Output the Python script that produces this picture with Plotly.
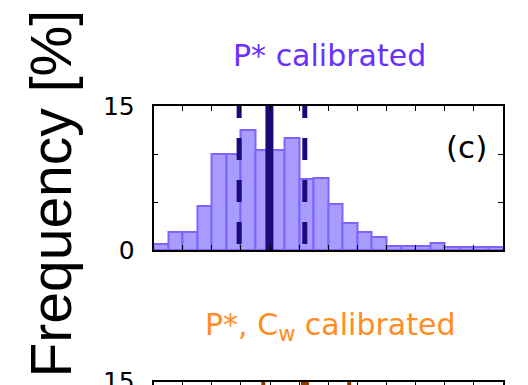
import plotly.graph_objects as go

# ---- data ----
bin_left = [0.0, 0.5, 1.0, 1.5, 2.0, 2.5, 3.0, 3.5, 4.0, 4.5, 5.0, 5.5,
            6.0, 6.5, 7.0, 7.5, 8.0, 8.5, 9.0, 9.5, 10.0, 10.5, 11.0, 11.5]
bin_width = 0.5
freq_c = [0.65, 1.9, 1.9, 4.6, 9.95, 9.95, 12.45, 10.45, 10.45, 11.7, 7.35, 7.5,
          4.75, 2.85, 1.9, 1.4, 0.4, 0.4, 0.4, 0.7, 0.3, 0.3, 0.3, 0.3]
stats_c = {"low": 2.94, "median": 3.98, "high": 5.195}
stats_e = {"low": 3.77, "median": 5.2, "high": 6.72}
title_c = "P* calibrated"
title_e = "P*, C<sub>w</sub> calibrated"
panel_label = "(c)"
ylabel = "Frequency [%]"
x_range = [0, 12]
y_range = [0, 15]
y_labelvals = [0, 15]
y_labeltext = ["0", "15"]

# page body has an 8px margin: figure is drawn 8px right/down
OFF = 8
W, H = 528 - OFF, 385 - OFF
left_px, right_px = 153.5 - OFF, 503 - OFF
top1, bot1 = 106 - OFF, 250 - OFF
top2 = 381.5 - OFF

bar_fill = "#a99cff"
bar_edge = "#7f62ff"
line_c = "#1c0a78"
line_e = "#8a3c00"

fig = go.Figure()

centers = [b + bin_width / 2 for b in bin_left]
fig.add_trace(go.Bar(x=centers, y=freq_c, width=bin_width,
                     marker=dict(color=bar_fill, line=dict(color=bar_edge, width=2)),
                     xaxis="x", yaxis="y", showlegend=False, hoverinfo="skip"))

ppu = (bot1 - top1) / (y_range[1] - y_range[0])
y_start = y_range[1] + 10 / ppu   # dash phase offset above the top frame

def vline(xv, ax_x, ax_y, color, width, dash):
    fig.add_trace(go.Scatter(x=[xv, xv], y=[y_start, -1], mode="lines",
                             line=dict(color=color, width=width, dash=dash),
                             xaxis=ax_x, yaxis=ax_y, showlegend=False, hoverinfo="skip"))

vline(stats_c["low"], "x", "y", line_c, 5, "22px,20px")
vline(stats_c["high"], "x", "y", line_c, 5, "22px,20px")
vline(stats_c["median"], "x", "y", line_c, 8, "solid")

vline(stats_e["low"], "x2", "y2", line_e, 4, "22px,20px")
vline(stats_e["high"], "x2", "y2", line_e, 4, "22px,20px")
vline(stats_e["median"], "x2", "y2", line_e, 8, "solid")

xd = [left_px / W, right_px / W]
yd1 = [1 - bot1 / H, 1 - top1 / H]
vis2 = H - top2
yd2 = [0, vis2 / H]

axis_common = dict(showline=True, linecolor="black", linewidth=1.5, mirror="ticks",
                   ticks="inside", ticklen=5, tickwidth=1.2, tickcolor="black",
                   showgrid=False, zeroline=False)
tickfont = dict(family="DejaVu Sans", size=25, color="black")

fig.update_layout(
    width=W, height=H,
    margin=dict(l=0, r=0, t=0, b=0),
    paper_bgcolor="white", plot_bgcolor="white",
    bargap=0,
    xaxis=dict(domain=xd, range=x_range, dtick=1, tick0=0, showticklabels=False,
               anchor="y", **axis_common),
    yaxis=dict(domain=yd1, range=y_range, tickvals=y_labelvals, ticktext=y_labeltext,
               minor=dict(ticks="inside", ticklen=5, tickwidth=1.2, tickcolor="black",
                          tick0=0, dtick=5, showgrid=False),
               anchor="x", ticklabelstandoff=12, tickfont=tickfont,
               ticklabeloverflow="allow", automargin=False, **axis_common),
    xaxis2=dict(domain=xd, range=x_range, dtick=1, tick0=0, showticklabels=False,
                anchor="y2", **axis_common),
    yaxis2=dict(domain=yd2, range=[y_range[1] - vis2 / ppu, y_range[1]], tickvals=[15],
                ticktext=["15"], anchor="x2", ticklabelstandoff=12, tickfont=tickfont,
                ticklabeloverflow="allow", automargin=False, **axis_common),
)

fig.add_annotation(text=title_c, xref="paper", yref="paper", x=(329 - OFF) / W,
                   y=1 - (55 - OFF) / H, xanchor="center", yanchor="middle", showarrow=False,
                   font=dict(family="DejaVu Sans", size=30, color="#6a30ff"))
fig.add_annotation(text=title_e, xref="paper", yref="paper", x=(330 - OFF) / W,
                   y=1 - (326 - OFF) / H, xanchor="center", yanchor="middle", showarrow=False,
                   font=dict(family="DejaVu Sans", size=30, color="#ff8c24"))
fig.add_annotation(text=panel_label, xref="x", yref="y", x=10.73, y=10.7,
                   xanchor="center", yanchor="middle", showarrow=False,
                   font=dict(family="DejaVu Sans", size=31, color="black"))
fig.add_annotation(text=ylabel, xref="paper", yref="paper", x=(50 - OFF) / W,
                   y=1 - (193.5 - OFF) / H, xanchor="center", yanchor="middle",
                   showarrow=False, textangle=-90,
                   font=dict(family="Liberation Sans", size=57, color="black"))

fig.write_html("out.html")
